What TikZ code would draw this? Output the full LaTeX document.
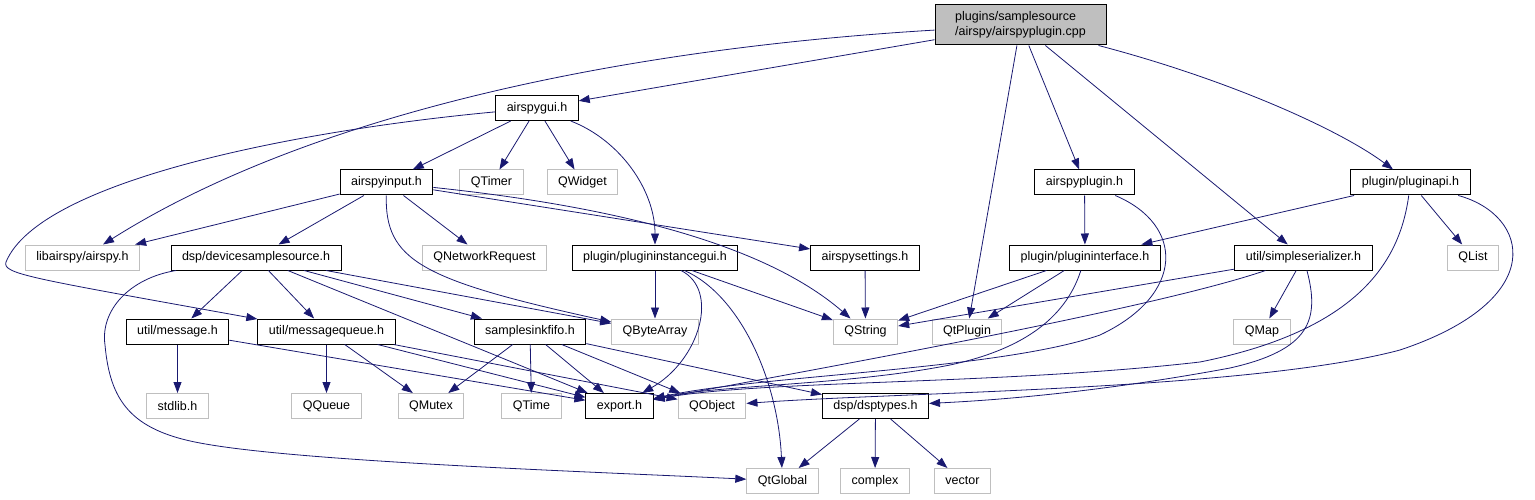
\documentclass[tikz,border=0pt]{standalone}
\usepackage{fontspec}
\setmainfont{Liberation Sans}
\usetikzlibrary{arrows.meta}

\definecolor{edgeblue}{HTML}{191970}
\definecolor{boxgray}{HTML}{BFBFBF}

\begin{document}
\begin{tikzpicture}[
	x=1pt, y=-1pt,
	font=\fontsize{12.5}{15}\selectfont,
	file/.style={
		draw=black,
		line width=1pt,
		fill=white,
		minimum height=25pt,
		inner xsep=11pt,
		inner ysep=0pt
	},
	sys/.style={
		file,
		draw=boxgray
	},
	topfile/.style={
		file,
		fill=boxgray,
		minimum width=171pt,
		minimum height=40pt,
		align=left
	},
	dep/.style={
		draw=edgeblue,
		line width=0.8pt,
		-{Triangle[length=11pt, width=8pt]}
	}
	]
	\useasboundingbox (0,0) rectangle (1535,500);

	% the file itself
	\node[topfile] (root) at (1020.5,25) {plugins/samplesource\\/airspy/airspyplugin.cpp};

	% level 1
	\node[file] (gui) at (537,108) {airspygui.h};

	% level 2
	\node[file] (ain) at (386.5,182.5) {airspyinput.h};
	\node[sys] (qtimer) at (491.5,182.5) {QTimer};
	\node[sys] (qwidget) at (582.5,182.5) {QWidget};
	\node[file] (aplug) at (1084.5,182.5) {airspyplugin.h};
	\node[file] (api) at (1410.5,182.5) {plugin/pluginapi.h};

	% level 3
	\node[sys] (lib) at (82.5,257.5) {libairspy/airspy.h};
	\node[file] (dss) at (256,257.5) {dsp/devicesamplesource.h};
	\node[sys] (qnr) at (484.5,257.5) {QNetworkRequest};
	\node[file] (pig) at (655,257.5) {plugin/plugininstancegui.h};
	\node[file] (aset) at (865,257.5) {airspysettings.h};
	\node[file] (pif) at (1085,257.5) {plugin/plugininterface.h};
	\node[file] (sser) at (1303.5,257.5) {util/simpleserializer.h};
	\node[sys] (qlist) at (1473,257.5) {QList};

	% level 4
	\node[file] (msg) at (177.5,331.5) {util/message.h};
	\node[file] (mq) at (326.5,331.5) {util/messagequeue.h};
	\node[file] (fifo) at (530,331.5) {samplesinkfifo.h};
	\node[sys] (qba) at (655,331.5) {QByteArray};
	\node[sys] (qstr) at (865.5,331.5) {QString};
	\node[sys] (qtplug) at (967,331.5) {QtPlugin};
	\node[sys] (qmap) at (1262,331.5) {QMap};

	% level 5
	\node[sys] (stdlib) at (177.5,406) {stdlib.h};
	\node[sys] (qqueue) at (326.5,406) {QQueue};
	\node[sys] (qmutex) at (431,406) {QMutex};
	\node[sys] (qtime) at (531.5,406) {QTime};
	\node[file] (export) at (619.5,406) {export.h};
	\node[sys] (qobj) at (712,406) {QObject};
	\node[file] (dsp) at (875.5,406) {dsp/dsptypes.h};

	% level 6
	\node[sys] (qtglobal) at (782.5,481) {QtGlobal};
	\node[sys] (complex) at (875,481) {complex};
	\node[sys] (vector) at (962.5,481) {vector};

	% straight includes
	\foreach \a/\b in {root/gui, root/qtplug, root/aplug, root/sser,
		gui/ain, gui/qtimer, gui/qwidget,
		ain/lib, ain/dss, ain/qnr, ain/aset,
		dss/msg, dss/mq, dss/fifo, dss/qba, dss/export,
		msg/stdlib, msg/export,
		mq/qqueue, mq/qmutex, mq/export, mq/qobj,
		fifo/qmutex, fifo/qtime, fifo/export, fifo/qobj, fifo/dsp,
		pig/qba, pig/qstr, aset/qstr, aplug/pif,
		pif/qstr, pif/qtplug, sser/qstr, sser/qmap,
		api/pif, api/qlist,
		dsp/qtglobal, dsp/complex, dsp/vector} {
		\draw[dep] (\a) -- (\b);
	}

	% curved includes
	\draw[dep] (root) .. controls (600,50) and (300,120) .. (lib);
	\draw[dep] (root) .. controls (1230,80) and (1340,130) .. (api);
	\draw[dep] (gui) .. controls (620,140) and (655,190) .. (pig);
	\draw[dep] (gui) .. controls (300,130) and (40,180) .. (6,262)
		.. controls (2,274) and (30,278) .. (mq);
	\draw[dep] (ain) .. controls (385,260) and (420,280) .. (qba);
	\draw[dep] (ain) .. controls (600,205) and (760,240) .. (qstr);
	\draw[dep] (dss) .. controls (130,278) and (100,310) .. (105,345)
		.. controls (110,400) and (130,430) .. (200,443)
		.. controls (300,462) and (600,472) .. (qtglobal);
	\draw[dep] (pig) .. controls (720,290) and (700,360) .. (export);
	\draw[dep] (pig) .. controls (740,295) and (778,380) .. (qtglobal);
	\draw[dep] (aplug) .. controls (1185,225) and (1185,295) .. (1100,335)
		.. controls (1000,370) and (760,375) .. (export);
	\draw[dep] (pif) .. controls (1065,320) and (1020,350) .. (950,365)
		.. controls (850,385) and (720,385) .. (export);
	\draw[dep] (sser) .. controls (1150,310) and (800,372) .. (export);
	\draw[dep] (sser) .. controls (1320,320) and (1310,350) .. (1230,368)
		.. controls (1100,392) and (1000,400) .. (dsp);
	\draw[dep] (api) .. controls (1400,260) and (1360,330) .. (1200,362)
		.. controls (1000,385) and (760,380) .. (export);
	\draw[dep] (api) .. controls (1530,215) and (1550,300) .. (1400,350)
		.. controls (1250,390) and (900,392) .. (qobj);
\end{tikzpicture}
\end{document}
